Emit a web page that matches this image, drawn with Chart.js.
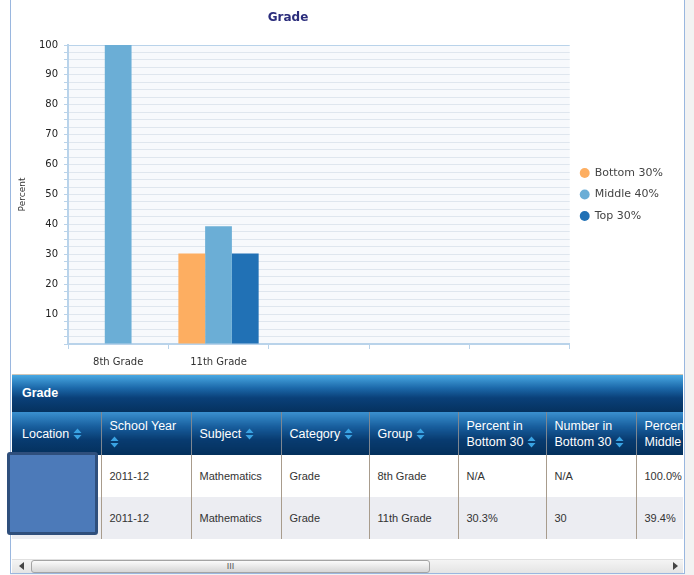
<!DOCTYPE html>
<html>
<head>
<meta charset="utf-8">
<script src="https://cdn.jsdelivr.net/npm/chart.js@4/dist/chart.umd.min.js"></script>
<style>
  body { margin: 0; background: #f2f2f2; font-family: 'Liberation Sans', Arial, sans-serif; }
  #frame {
    position: absolute; left: 10px; top: 0; width: 673px; height: 573px;
    background: #fff; border-left: 1px solid #9ab7df; border-right: 1px solid #9ab7df;
    border-bottom: 1px solid #9ab7df;
  }
  #left-pad { position: absolute; left: 0; top: 0; width: 10px; height: 575px; background: #fff; }
  #chart-wrap { position: absolute; left: 0; top: 0; width: 673px; height: 372px; }
  #chart-title {
    position: absolute; left: 0; top: 10px; width: 554px; text-align: center;
    font: bold 12px 'DejaVu Sans', Verdana, sans-serif; color: #2b2d7c;
  }
  #grid-wrap {
    position: absolute; left: 1px; top: 374px; width: 671px; height: 180px;
    border-top: 1px solid #cfc6b8; overflow: hidden;
  }
  .band {
    height: 37px; line-height: 37px; padding-left: 10px; color: #fff; font-weight: bold; font-size: 12.5px;
    background: linear-gradient(#49a8e2 0%, #1c69aa 35%, #0a4079 62%, #05325f 100%);
  }
  table { border-collapse: collapse; table-layout: fixed; width: 760px; font-size: 11px; }
  th {
    height: 43px; padding: 0 8px; text-align: left; font-weight: normal; color: #fff; font-size: 12.5px;
    line-height: 16px; vertical-align: middle;
    background: linear-gradient(#3a90cf 0%, #175d9c 35%, #083b70 65%, #04305c 100%);
    border-left: 1px solid #7d8792;
  }
  td { height: 42px; padding: 0 8px; color: #333; border-left: 1px solid #a89c8d; }
  th:first-child, td:first-child { border-left: none; padding-left: 10px; }
  tr.alt td { background: #ecedf2; }
  .sort { vertical-align: -2px; }
  #redact {
    position: absolute; left: 7px; top: 452px; width: 85px; height: 77px;
    background: #4c7ab9; border: 3px solid #2f4f7c; border-radius: 3px;
  }
  #scroll {
    position: absolute; left: 1px; top: 559px; width: 671px; height: 13px;
    background: linear-gradient(#f4f4f4, #e4e4e4); border-top: 1px solid #e0e0e0;
  }
  #thumb {
    position: absolute; left: 19px; top: 0; width: 397px; height: 11px; border: 1px solid #a4a4a4;
    border-radius: 3px; background: linear-gradient(#fbfbfb, #d6d6d6);
    font-size: 9px; line-height: 11px; text-align: center; color: #555; letter-spacing: 0;
  }
  .arrow { position: absolute; top: 2px; width: 0; height: 0; border-top: 4px solid transparent; border-bottom: 4px solid transparent; }
</style>
</head>
<body>
<div id="left-pad"></div>
<div id="frame">
  <div id="chart-wrap"><canvas id="grade-chart"></canvas></div>
  <div id="chart-title">Grade</div>
  <div id="grid-wrap">
    <div class="band">Grade</div>
    <table>
      <colgroup>
        <col style="width:89px"><col style="width:90px"><col style="width:90px"><col style="width:88px">
        <col style="width:89px"><col style="width:88px"><col style="width:90px"><col style="width:136px">
      </colgroup>
      <thead><tr id="head-row"></tr></thead>
      <tbody id="grid-body"></tbody>
    </table>
  </div>
  <div id="scroll">
    <div class="arrow" style="left:7px; border-right:5px solid #444"></div>
    <div id="thumb">III</div>
    <div class="arrow" style="left:661px; border-left:5px solid #444"></div>
  </div>
</div>
<div id="redact"></div>
<script>
const categories = ['8th Grade', '11th Grade', '', '', ''];
const bottom30 = [null, 30.3, null, null, null];
const middle40 = [100, 39.4, null, null, null];
const top30 = [null, 30.3, null, null, null];
const yTickLabels = [10, 20, 30, 40, 50, 60, 70, 80, 90, 100];

const gridHeaders = ['Location', 'School Year', 'Subject', 'Category', 'Group', 'Percent in Bottom 30', 'Number in Bottom 30', 'Percent in Middle 40'];
const gridRows = [
  ['', '2011-12', 'Mathematics', 'Grade', '8th Grade', 'N/A', 'N/A', '100.0%'],
  ['', '2011-12', 'Mathematics', 'Grade', '11th Grade', '30.3%', '30', '39.4%']
];

const AXIS_BLUE = '#b9d3ea';
const SORT_ICON = '<svg class="sort" width="9" height="12"><path d="M0.5 5 L4.5 0.5 L8.5 5Z M0.5 7 L4.5 11.5 L8.5 7Z" fill="#3aa3e3"/></svg>';

function renderGrid() {
  document.getElementById('head-row').innerHTML = gridHeaders.map((h, i) => {
    if (i === 1) return `<th>School Year<br>${SORT_ICON}</th>`;
    if (i === 5) return `<th>Percent in<br>Bottom 30 ${SORT_ICON}</th>`;
    if (i === 6) return `<th>Number in<br>Bottom 30 ${SORT_ICON}</th>`;
    if (i === 7) return `<th>Percent in<br>Middle 40</th>`;
    return `<th>${h} ${SORT_ICON}</th>`;
  }).join('');

  document.getElementById('grid-body').innerHTML = gridRows.map((row, i) => `
    <tr class="${i % 2 ? 'alt' : ''}">${row.map((cell) => `<td>${cell}</td>`).join('')}</tr>
  `).join('');
}

const plotBackground = {
  id: 'plotBackground',
  beforeDraw(chart) {
    const { ctx, chartArea } = chart;
    ctx.save();
    ctx.fillStyle = '#f7f9fc';
    ctx.fillRect(chartArea.left, chartArea.top, chartArea.right - chartArea.left, chartArea.bottom - chartArea.top);
    ctx.restore();
  }
};

function renderChart() {
  const font = 'DejaVu Sans';
  new Chart(document.getElementById('grade-chart'), {
    type: 'bar',
    data: {
      labels: categories,
      datasets: [
        { label: 'Bottom 30%', data: bottom30, backgroundColor: '#fdae61' },
        { label: 'Middle 40%', data: middle40, backgroundColor: '#6baed6' },
        { label: 'Top 30%', data: top30, backgroundColor: '#2171b5' }
      ]
    },
    options: {
      responsive: false,
      animation: false,
      maintainAspectRatio: false,
      layout: { padding: { top: 45, right: 11, bottom: 0, left: 0 } },
      datasets: { bar: { categoryPercentage: 0.8, barPercentage: 1.0 } },
      plugins: {
        title: { display: false },
        tooltip: { enabled: false },
        legend: {
          position: 'right',
          fullSize: false,
          align: 'center',
          labels: {
            usePointStyle: true,
            pointStyle: 'circle',
            boxWidth: 9,
            boxHeight: 7,
            padding: 10.5,
            color: '#444',
            font: { family: font, size: 11 }
          }
        }
      },
      scales: {
        x: {
          afterFit: (scale) => { scale.height = 28; },
          grid: {
            offset: true,
            drawOnChartArea: true,
            color: (ctx) => (ctx.index === categories.length ? AXIS_BLUE : 'rgba(0,0,0,0)'),
            tickColor: AXIS_BLUE,
            tickLength: 5
          },
          border: { color: AXIS_BLUE, width: 2 },
          ticks: { color: '#333', padding: 7, font: { family: font, size: 10 } }
        },
        y: {
          min: 0,
          max: 100,
          afterFit: (scale) => { scale.width = 57; },
          grid: {
            color: (ctx) => (ctx.tick && ctx.tick.value === 100 ? AXIS_BLUE : '#dfe6ee'),
            tickColor: AXIS_BLUE,
            tickLength: 4
          },
          border: { color: AXIS_BLUE, width: 2 },
          title: {
            display: true,
            text: 'Percent',
            color: '#333',
            padding: { top: 6, bottom: 0 },
            font: { family: font, size: 9 }
          },
          ticks: {
            stepSize: 2.5,
            maxTicksLimit: 41,
            autoSkip: false,
            padding: 6,
            color: '#222',
            font: { family: font, size: 10 },
            callback: (value) => (yTickLabels.includes(value) ? value : '')
          }
        }
      }
    },
    plugins: [plotBackground]
  });
}

const canvas = document.getElementById('grade-chart');
canvas.width = 673;
canvas.height = 372;
renderGrid();
renderChart();
</script>
</body>
</html>
